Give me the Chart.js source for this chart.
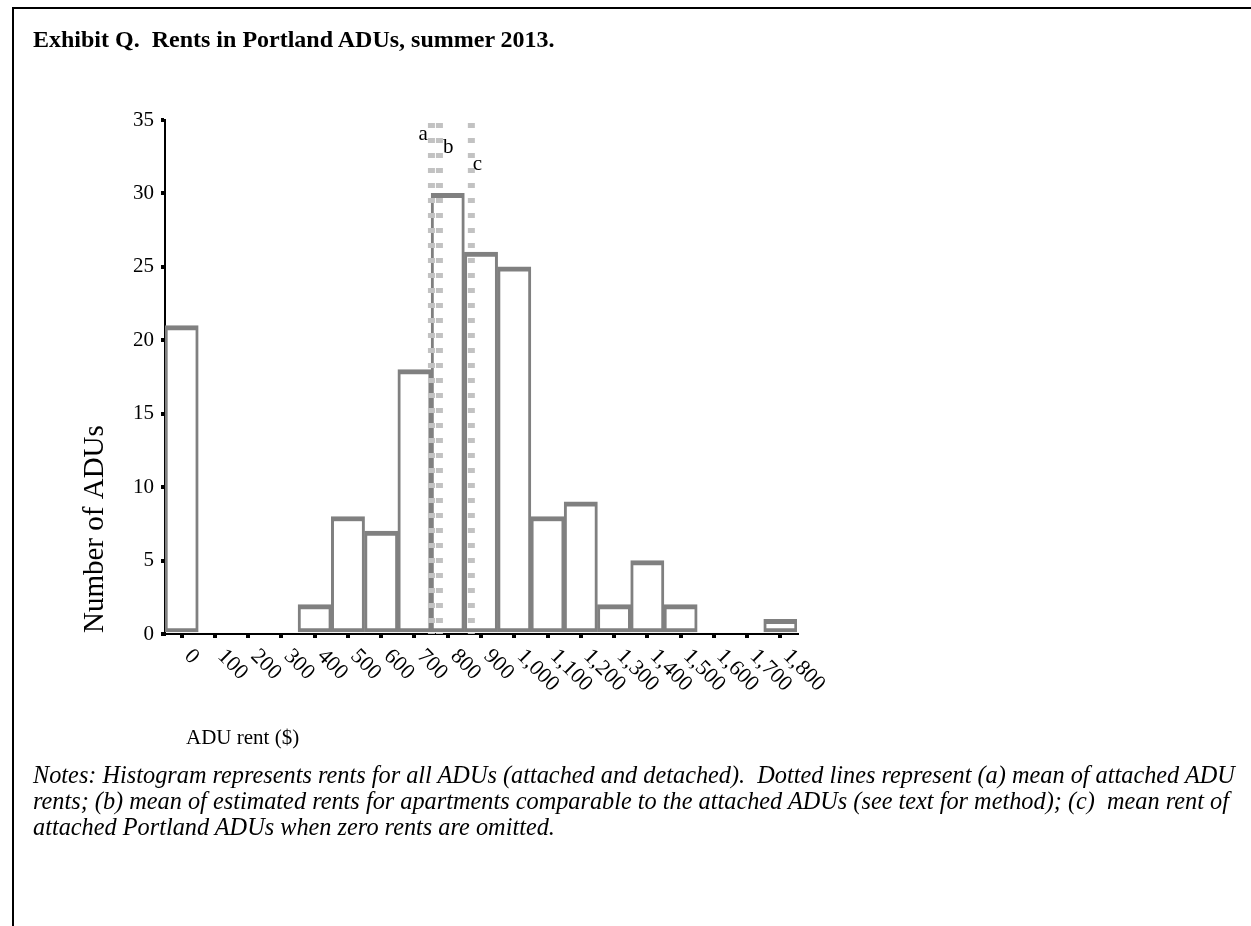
<!DOCTYPE html>
<html>
<head>
<meta charset="utf-8">
<title>Exhibit Q. Rents in Portland ADUs, summer 2013.</title>
<script src="https://cdn.jsdelivr.net/npm/chart.js@4.4.1/dist/chart.umd.min.js"></script>
<style>
  html, body { margin: 0; padding: 0; background: #fff; }
  body { width: 1251px; height: 926px; position: relative; overflow: hidden; font-family: "Liberation Serif", "Times New Roman", serif; color: #000; }
  #frame { position: absolute; left: 12px; top: 7px; width: 1300px; height: 1000px; border-left: 2px solid #000; border-top: 2px solid #000; }
  #chart-box { position: absolute; left: 0; top: 0; width: 1251px; height: 926px; }
  #title { position: absolute; left: 33px; top: 26px; font-size: 24px; font-weight: bold; white-space: pre; }
  #notes { position: absolute; left: 33px; top: 762px; font-size: 24.3px; font-style: italic; line-height: 26px; white-space: nowrap; }
</style>
</head>
<body>
<div id="frame"></div>
<div id="chart-box"><canvas id="rentChart"></canvas></div>
<div id="title">Exhibit Q.  Rents in Portland ADUs, summer 2013.</div>
<div id="notes">Notes: Histogram represents rents for all ADUs (attached and detached).&nbsp; Dotted lines represent (a) mean of attached ADU<br>rents; (b) mean of estimated rents for apartments comparable to the attached ADUs (see text for method); (c)&nbsp; mean rent of<br>attached Portland ADUs when zero rents are omitted.</div>
<script>
// Histogramme des loyers ADU - Portland 2013
const rentLabels = ['0', '100', '200', '300', '400', '500', '600', '700', '800', '900', '1,000',
  '1,100', '1,200', '1,300', '1,400', '1,500', '1,600', '1,700', '1,800'];
const aduCounts = [21, 0, 0, 0, 2, 8, 7, 18, 30, 26, 25, 8, 9, 2, 5, 2, 0, 0, 1];
const yTicks = [0, 5, 10, 15, 20, 25, 30, 35];
// moyennes (a), (b), (c) en $
const meanLetters = ['a', 'b', 'c'];
const meanRents = [751, 775, 871];

const SERIF = '"Liberation Serif", "Times New Roman", serif';

// textes d'axe + étiquettes inclinées + lettres des moyennes
const labelsPlugin = {
  id: 'labelsPlugin',
  afterDraw(chart) {
    const { ctx, scales } = chart;
    const xs = scales.x, x2 = scales.x2, area = chart.chartArea;
    ctx.save();
    ctx.fillStyle = '#000';
    ctx.font = '22px ' + SERIF;
    ctx.textAlign = 'left';
    ctx.textBaseline = 'middle';
    rentLabels.forEach((lab, i) => {
      const px = xs.getPixelForTick(i);
      ctx.save();
      ctx.translate(px + 6, area.bottom + 19);
      ctx.rotate(Math.PI / 4);
      ctx.fillText(lab, 0, 0);
      ctx.restore();
    });

    ctx.textBaseline = 'alphabetic';
    ctx.font = '21px ' + SERIF;
    ctx.fillText('ADU rent ($)', 186, 744);

    ctx.save();
    ctx.font = '29px ' + SERIF;
    ctx.translate(103, area.bottom - 1);
    ctx.rotate(-Math.PI / 2);
    ctx.fillText('Number of ADUs', 0, 0);
    ctx.restore();

    // lettres a / b / c
    ctx.font = '21px ' + SERIF;
    const letterDx = [-3.5, 3.5, 1.5];
    const letterDy = [20, 33, 50];
    meanLetters.forEach((l, i) => {
      const px = x2.getPixelForValue(meanRents[i]);
      ctx.textAlign = letterDx[i] < 0 ? 'right' : 'left';
      ctx.fillText(l, px + letterDx[i], area.top + letterDy[i]);
    });
    ctx.restore();
  }
};

document.addEventListener('DOMContentLoaded', () => {
  const meanSets = meanRents.map((r, i) => ({
    type: 'line',
    label: meanLetters[i],
    xAxisID: 'x2',
    data: [{ x: r, y: 35 }, { x: r, y: 0 }],
    borderColor: '#c2c2c2',
    borderWidth: 7,
    borderDash: [5, 10],
    borderDashOffset: 12,
    pointRadius: 0,
    order: 0
  }));

  new Chart(document.getElementById('rentChart'), {
    type: 'bar',
    data: {
      labels: rentLabels,
      datasets: [{
        label: 'ADUs',
        data: aduCounts,
        backgroundColor: '#ffffff',
        borderColor: '#808080',
        borderWidth: { top: 5, bottom: 4, left: 3, right: 3 },
        borderSkipped: false,
        categoryPercentage: 1,
        barPercentage: 1,
        grouped: false,
        order: 1
      }, ...meanSets]
    },
    options: {
      responsive: true,
      maintainAspectRatio: false,
      animation: false,
      layout: { padding: { left: 0, top: 120, right: 454, bottom: 282 } },
      plugins: { legend: { display: false }, tooltip: { enabled: false }, title: { display: false } },
      scales: {
        x: {
          type: 'category',
          offset: true,
          grid: { offset: false, drawOnChartArea: false, drawTicks: true, tickLength: 4, tickWidth: 4, lineWidth: 4, tickColor: '#000', color: '#000' },
          border: { display: true, color: '#000', width: 2 },
          ticks: { display: false },
          afterFit: s => { s.height = 10; }
        },
        x2: { type: 'linear', display: false, min: -50, max: 1850, offset: false },
        y: {
          min: 0,
          max: 35,
          afterBuildTicks: s => { s.ticks = yTicks.map(v => ({ value: v })); },
          grid: { drawOnChartArea: false, tickLength: 4, tickWidth: 4, lineWidth: 4, tickColor: '#000', color: '#000' },
          border: { display: true, color: '#000', width: 2 },
          ticks: { color: '#000', font: { family: SERIF, size: 21 }, padding: 7 },
          afterFit: s => { s.width = 165; }
        }
      }
    },
    plugins: [labelsPlugin]
  });
});
</script>
</body>
</html>
